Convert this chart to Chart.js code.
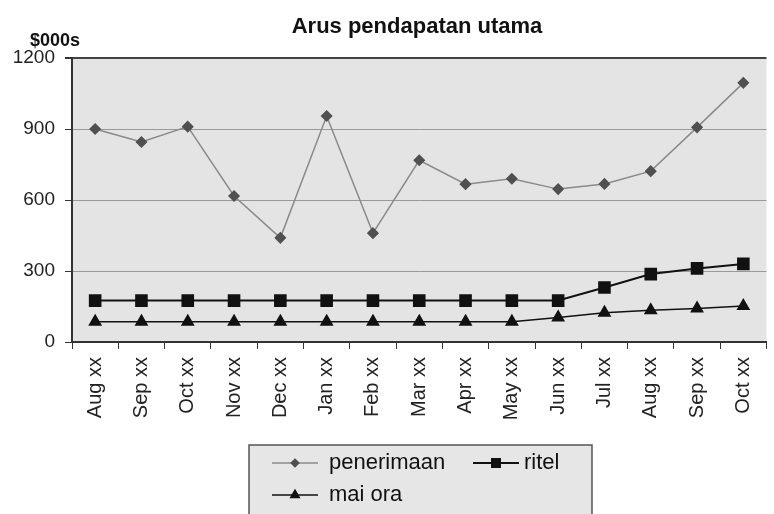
<!DOCTYPE html>
<html>
<head>
<meta charset="utf-8">
<script src="https://cdn.jsdelivr.net/npm/chart.js@4/dist/chart.umd.min.js"></script>
<style>
  html, body { margin: 0; padding: 0; background: #fff; overflow: hidden; }
</style>
</head>
<body>
<canvas id="revenueChart" width="776" height="514"></canvas>
<script>
const categories = ["Aug xx", "Sep xx", "Oct xx", "Nov xx", "Dec xx", "Jan xx", "Feb xx", "Mar xx",
  "Apr xx", "May xx", "Jun xx", "Jul xx", "Aug xx", "Sep xx", "Oct xx"];
const penerimaan = [900, 845, 910, 617, 440, 955, 460, 768, 667, 690, 646, 668, 722, 907, 1095];
const ritel = [175, 175, 175, 175, 175, 175, 175, 175, 175, 175, 175, 230, 287, 311, 330];
const maiOra = [86, 86, 86, 86, 86, 86, 86, 86, 86, 86, 104, 124, 134, 142, 152];
const yTicks = [0, 300, 600, 900, 1200];

const titleText = "Arus pendapatan utama";
const unitText = "$000s";
const FONT = "'Liberation Sans', Arial, sans-serif";

// plot background
const plotBg = {
  id: "plotBg",
  beforeDraw(chart) {
    const { ctx, chartArea: a } = chart;
    ctx.save();
    ctx.fillStyle = "#e4e4e4";
    ctx.fillRect(a.left, a.top, a.right - a.left, a.bottom - a.top);
    ctx.restore();
  },
};

// title, unit label and the boxed legend
const overlay = {
  id: "overlay",
  afterDraw(chart) {
    const { ctx } = chart;
    ctx.save();
    ctx.fillStyle = "#111";
    ctx.textBaseline = "alphabetic";
    ctx.font = "bold 22px " + FONT;
    ctx.textAlign = "center";
    ctx.fillText(titleText, 417, 33);
    ctx.font = "bold 18px " + FONT;
    ctx.textAlign = "left";
    ctx.fillText(unitText, 30, 46);

    // legend box
    ctx.fillStyle = "#e6e6e6";
    ctx.fillRect(249, 445, 343, 80);
    ctx.strokeStyle = "#555";
    ctx.lineWidth = 1.5;
    ctx.strokeRect(249, 445, 343, 80);

    const spots = [[272, 463], [473, 463], [272, 495]];
    chart.data.datasets.forEach((ds, i) => {
      const [x, y] = spots[i];
      ctx.strokeStyle = ds.borderColor;
      ctx.lineWidth = ds.borderWidth;
      ctx.beginPath();
      ctx.moveTo(x, y);
      ctx.lineTo(x + 46, y);
      ctx.stroke();
      ctx.fillStyle = ds.pointBackgroundColor;
      ctx.strokeStyle = ds.pointBorderColor;
      Chart.helpers.drawPoint(ctx, {
        pointStyle: ds.pointStyle,
        radius: ds.pointRadius * 0.75,
        borderWidth: 1,
      }, x + 23, y);
      ctx.fillStyle = "#111";
      ctx.font = "22px " + FONT;
      ctx.textBaseline = "middle";
      ctx.fillText(ds.label, x + (i === 1 ? 51 : 57), y);
    });
    ctx.restore();
  },
};

new Chart(document.getElementById("revenueChart"), {
  type: "line",
  data: {
    labels: categories,
    datasets: [
      {
        label: "penerimaan",
        data: penerimaan,
        borderColor: "#8a8a8a",
        borderWidth: 1.5,
        pointStyle: "rectRot",
        pointRadius: 5,
        pointBackgroundColor: "#505050",
        pointBorderColor: "#505050",
      },
      {
        label: "ritel",
        data: ritel,
        borderColor: "#111",
        borderWidth: 2,
        pointStyle: "rect",
        pointRadius: 7.5,
        pointBackgroundColor: "#111",
        pointBorderColor: "#111",
      },
      {
        label: "mai ora",
        data: maiOra,
        borderColor: "#111",
        borderWidth: 1.5,
        pointStyle: "triangle",
        pointRadius: 6.5,
        pointBackgroundColor: "#111",
        pointBorderColor: "#111",
      },
    ],
  },
  options: {
    responsive: false,
    animation: false,
    devicePixelRatio: 1,
    layout: { padding: { top: 58, left: 0, right: 0, bottom: 0 } },
    plugins: {
      legend: { display: false },
      title: { display: false },
      tooltip: { enabled: false },
    },
    scales: {
      x: {
        type: "category",
        offset: true,
        afterFit(scale) { scale.height = 172; },
        grid: {
          offset: true,
          drawOnChartArea: false,
          drawTicks: true,
          tickLength: 7,
          tickColor: "#333",
        },
        border: { color: "#333", width: 2 },
        ticks: {
          autoSkip: false,
          maxRotation: 90,
          minRotation: 90,
          padding: 8,
          color: "#222",
          font: { family: FONT, size: 20 },
        },
      },
      y: {
        min: 0,
        max: 1200,
        afterFit(scale) { scale.width = 72; },
        afterBuildTicks(scale) { scale.ticks = yTicks.map(v => ({ value: v })); },
        grid: {
          color: ctx => (ctx.tick && ctx.tick.value === 1200 ? "#444" : "#9a9a9a"),
          lineWidth: ctx => (ctx.tick && ctx.tick.value === 1200 ? 2 : 1),
          tickLength: 7,
          tickColor: "#333",
        },
        border: { color: "#333", width: 2 },
        ticks: {
          padding: 10,
          color: "#222",
          font: { family: FONT, size: 19 },
          callback: v => String(v),
        },
      },
    },
  },
  plugins: [plotBg, overlay],
});
</script>
</body>
</html>
